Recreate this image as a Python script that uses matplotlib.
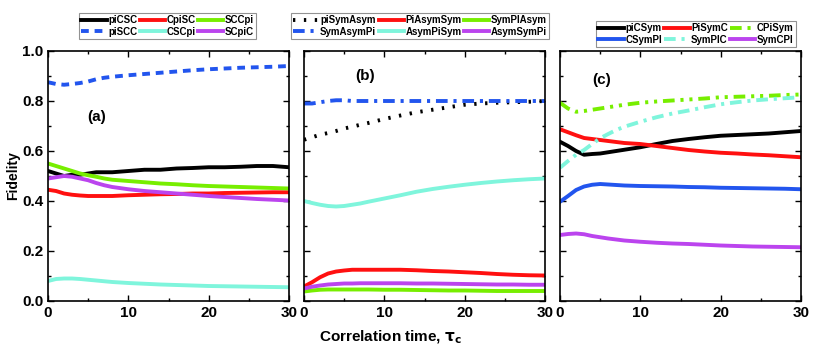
import numpy as np
import matplotlib
matplotlib.use("Agg")
import matplotlib.pyplot as plt

plt.rcParams['font.family'] = ['Liberation Sans', 'DejaVu Sans']
plt.rcParams['font.weight'] = 'bold'

T = [0, 1, 2, 3, 4, 5, 6, 7, 8, 10, 12, 14, 16, 18, 20, 22, 24, 26, 28, 30]

# panel (a)
piCSC = [0.52, 0.51, 0.50, 0.505, 0.505, 0.51, 0.515, 0.515, 0.515, 0.52, 0.525, 0.525, 0.53, 0.532, 0.535, 0.535, 0.537, 0.54, 0.54, 0.535]
CpiSC = [0.445, 0.44, 0.43, 0.425, 0.422, 0.42, 0.42, 0.42, 0.42, 0.423, 0.425, 0.427, 0.428, 0.43, 0.43, 0.432, 0.433, 0.434, 0.435, 0.435]
SCCpi = [0.55, 0.54, 0.53, 0.52, 0.51, 0.503, 0.497, 0.49, 0.485, 0.48, 0.475, 0.47, 0.467, 0.463, 0.46, 0.458, 0.456, 0.454, 0.452, 0.45]
piSCC = [0.875, 0.868, 0.865, 0.868, 0.872, 0.878, 0.887, 0.893, 0.897, 0.903, 0.908, 0.913, 0.918, 0.923, 0.927, 0.93, 0.933, 0.935, 0.937, 0.94]
CSCpi = [0.08, 0.088, 0.09, 0.09, 0.088, 0.085, 0.082, 0.079, 0.076, 0.072, 0.069, 0.066, 0.064, 0.062, 0.06, 0.059, 0.058, 0.057, 0.056, 0.055]
SCpiC = [0.49, 0.495, 0.5, 0.497, 0.49, 0.483, 0.472, 0.463, 0.456, 0.447, 0.44, 0.435, 0.43, 0.425, 0.42, 0.416, 0.412, 0.408, 0.405, 0.402]

# panel (b)
piSymAsym = [0.645, 0.655, 0.665, 0.672, 0.68, 0.69, 0.697, 0.705, 0.712, 0.728, 0.742, 0.755, 0.765, 0.775, 0.785, 0.79, 0.793, 0.795, 0.797, 0.8]
SymAsymPi = [0.79, 0.79, 0.795, 0.8, 0.803, 0.803, 0.8, 0.8, 0.8, 0.8, 0.8, 0.8, 0.8, 0.8, 0.8, 0.8, 0.8, 0.8, 0.8, 0.8]
PiAsymSym = [0.058, 0.075, 0.095, 0.11, 0.118, 0.122, 0.125, 0.125, 0.125, 0.125, 0.125, 0.123, 0.12, 0.118, 0.115, 0.112, 0.108, 0.105, 0.103, 0.102]
SymPiAsym = [0.038, 0.042, 0.045, 0.046, 0.046, 0.046, 0.046, 0.046, 0.046, 0.045, 0.045, 0.044, 0.043, 0.042, 0.042, 0.041, 0.04, 0.04, 0.04, 0.04]
AsymPiSym = [0.4, 0.392, 0.385, 0.38, 0.378, 0.38, 0.385, 0.39, 0.397, 0.41, 0.423, 0.437, 0.448, 0.457, 0.465, 0.472, 0.478, 0.483, 0.487, 0.49]
AsymSymPi = [0.05, 0.057, 0.062, 0.066, 0.068, 0.07, 0.07, 0.071, 0.071, 0.071, 0.071, 0.07, 0.07, 0.069, 0.068, 0.067, 0.066, 0.066, 0.065, 0.065]

# panel (c)
piCSym = [0.637, 0.62, 0.6, 0.585, 0.588, 0.59, 0.595, 0.6, 0.605, 0.615, 0.628, 0.64, 0.648, 0.655, 0.661, 0.664, 0.667, 0.67, 0.675, 0.68]
PiSymC = [0.687, 0.675, 0.663, 0.652, 0.648, 0.644, 0.64, 0.636, 0.632, 0.628, 0.62, 0.612, 0.604, 0.598, 0.593, 0.59, 0.586, 0.583, 0.579, 0.575]
CPiSym = [0.793, 0.77, 0.757, 0.76, 0.765, 0.77, 0.775, 0.78, 0.785, 0.793, 0.798, 0.802, 0.806, 0.81, 0.815, 0.817, 0.819, 0.821, 0.824, 0.826]
CSymPI = [0.397, 0.42, 0.444, 0.458, 0.465, 0.468, 0.466, 0.464, 0.462, 0.46, 0.459, 0.458, 0.456, 0.455, 0.453, 0.452, 0.451, 0.45, 0.449, 0.447]
SymPIC = [0.533, 0.56, 0.585, 0.604, 0.628, 0.651, 0.668, 0.684, 0.697, 0.717, 0.735, 0.75, 0.762, 0.775, 0.787, 0.795, 0.802, 0.807, 0.811, 0.815]
SymCPI = [0.264, 0.268, 0.27, 0.267, 0.26, 0.255, 0.25, 0.246, 0.242, 0.237, 0.233, 0.23, 0.228, 0.225, 0.222, 0.22, 0.218, 0.217, 0.216, 0.215]

BLACK = 'black'
RED = '#ff1010'
GREEN = '#77ee00'
BLUE = '#2255ee'
CYAN = '#7ff5dc'
PURPLE = '#bb44ee'

fig = plt.figure(figsize=(8.18, 3.55), dpi=100)
W, H = 818.0, 355.0
top, bot = 51, 301
lefts = [48, 304, 560]
width = 241
axes = [fig.add_axes([l / W, 1 - bot / H, width / W, (bot - top) / H]) for l in lefts]

# legend rows as in the picture: first three on top row
panels = [
    [('piCSC', piCSC, BLACK, '-'), ('CpiSC', CpiSC, RED, '-'), ('SCCpi', SCCpi, GREEN, '-'),
     ('piSCC', piSCC, BLUE, (0, (2, 1.5))), ('CSCpi', CSCpi, CYAN, '-'), ('SCpiC', SCpiC, PURPLE, '-')],
    [('piSymAsym', piSymAsym, BLACK, (0, (0.6, 2.2))), ('PiAsymSym', PiAsymSym, RED, '-'),
     ('SymPIAsym', SymPiAsym, GREEN, '-'), ('SymAsymPi', SymAsymPi, BLUE, (0, (3, 1.5, 0.8, 1.5))),
     ('AsymPiSym', AsymPiSym, CYAN, '-'), ('AsymSymPi', AsymSymPi, PURPLE, '-')],
    [('piCSym', piCSym, BLACK, '-'), ('PiSymC', PiSymC, RED, '-'),
     ('CPiSym', CPiSym, GREEN, (0, (3, 1.5, 0.8, 1.5, 0.8, 1.5))),
     ('CSymPI', CSymPI, BLUE, '-'), ('SymPIC', SymPIC, CYAN, (0, (3, 1.5, 0.8, 1.5))),
     ('SymCPI', SymCPI, PURPLE, '-')],
]
tags = ['(a)', '(b)', '(c)']
tagpos = [(6.1, 0.735), (7.6, 0.9), (5.2, 0.885)]
legpos = [(79, 13), (291, 13), (596, 21)]

for i, ax in enumerate(axes):
    lines = []
    for name, vals, col, ls in panels[i]:
        ln, = ax.plot(T, vals, color=col, ls=ls, lw=2.8, label=name)
        lines.append(ln)
    ax.set_xlim(0, 30)
    ax.set_ylim(0, 1.0)
    ax.set_xticks([0, 10, 20, 30])
    ax.set_xticks([5, 15, 25], minor=True)
    ax.set_yticks([0, 0.2, 0.4, 0.6, 0.8, 1.0])
    ax.set_yticks([0.1, 0.3, 0.5, 0.7, 0.9], minor=True)
    ax.tick_params(which='both', direction='in', top=True, right=True, labelsize=11)
    ax.tick_params(which='major', length=4, width=1)
    ax.tick_params(which='minor', length=2.5, width=1)
    for lab in ax.get_xticklabels() + ax.get_yticklabels():
        lab.set_fontweight('bold')
    for s in ax.spines.values():
        s.set_linewidth(1.2)
    if i > 0:
        ax.set_yticklabels([])
    else:
        ax.yaxis.set_major_formatter(matplotlib.ticker.FormatStrFormatter('%.1f'))
        ax.set_ylabel('Fidelity', fontsize=10, fontweight='bold', labelpad=1)
    ax.text(tagpos[i][0], tagpos[i][1], tags[i], fontsize=11, fontweight='bold',
            ha='center', va='center')
    order = [0, 3, 1, 4, 2, 5]
    lx, ly = legpos[i]
    leg = ax.legend([lines[k] for k in order], [lines[k].get_label() for k in order],
                    loc='upper left', bbox_to_anchor=(lx / W, 1 - ly / H),
                    bbox_transform=fig.transFigure, ncol=3,
                    prop={'weight': 'bold', 'size': 7}, fancybox=False,
                    edgecolor='#777777', handlelength=2.6, handletextpad=0.15,
                    columnspacing=0.25, borderpad=0.25, labelspacing=0.15,
                    borderaxespad=0)
    leg.get_frame().set_linewidth(0.8)

fig.text(390 / W, 1 - 337 / H, r'Correlation time, $\mathbf{\tau_c}$', ha='center',
         va='center', fontsize=11, fontweight='bold')

fig.savefig('out.png', dpi=100)
